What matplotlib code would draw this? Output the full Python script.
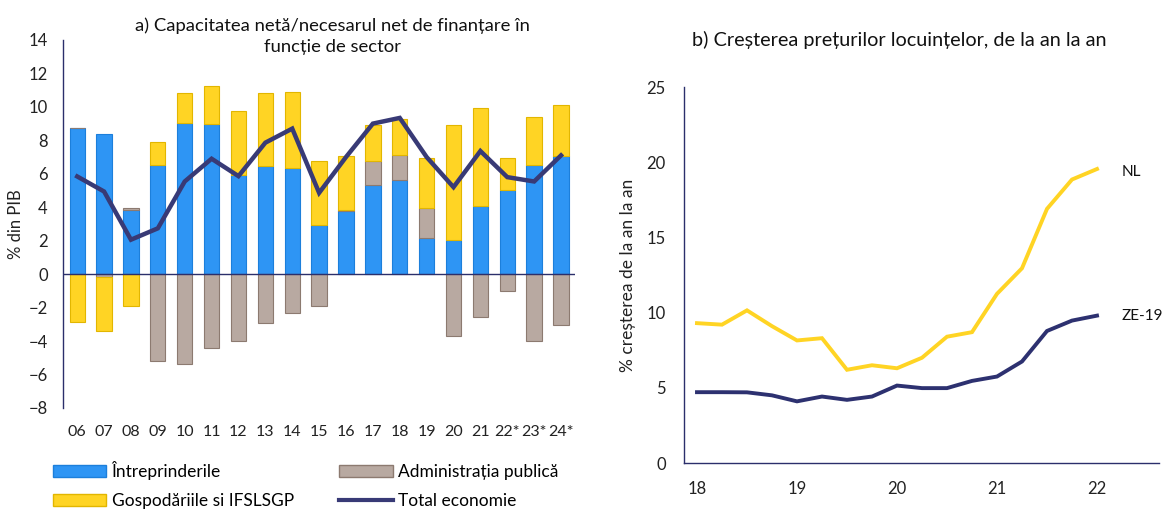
import numpy as np
import matplotlib
matplotlib.use("Agg")
import matplotlib.pyplot as plt
from matplotlib.patches import Patch
from matplotlib.lines import Line2D

plt.rcParams['font.family'] = ['Lato', 'DejaVu Sans']

# panel a) net lending/borrowing by sector, % of GDP
years = ["06", "07", "08", "09", "10", "11", "12", "13", "14", "15",
         "16", "17", "18", "19", "20", "21", "22*", "23*", "24*"]
intreprinderi = [8.74, 8.36, 3.84, 6.54, 9.06, 8.96, 5.9, 6.44, 6.34, 2.96,
                 3.76, 5.3, 5.6, 2.14, 2.04, 4.1, 5.04, 6.54, 7.06]
administratie = [0.0, -0.18, 0.12, -5.2, -5.36, -4.44, -3.98, -2.94, -2.3, -1.9,
                 0.1, 1.44, 1.54, 1.8, -3.7, -2.56, -1.02, -3.98, -3.02]
gospodarii = [-2.86, -3.24, -1.9, 1.36, 1.74, 2.3, 3.86, 4.36, 4.56, 3.8,
              3.2, 2.2, 2.16, 3.02, 6.9, 5.86, 1.9, 2.86, 3.08]
total = [5.84, 4.94, 2.06, 2.74, 5.54, 6.9, 5.86, 7.86, 8.7, 4.86,
         7.0, 9.0, 9.34, 7.0, 5.2, 7.36, 5.8, 5.54, 7.1]

# panel b) house price growth, quarterly, 2018Q1 - 2022Q1
quarters = [18.0, 18.25, 18.5, 18.75, 19.0, 19.25, 19.5, 19.75, 20.0,
            20.25, 20.5, 20.75, 21.0, 21.25, 21.5, 21.75, 22.0]
nl = [9.3, 9.2, 10.15, 9.1, 8.15, 8.3, 6.2, 6.5, 6.3,
      7.0, 8.4, 8.7, 11.25, 12.95, 16.9, 18.85, 19.55]
ze19 = [4.71, 4.71, 4.7, 4.5, 4.1, 4.42, 4.2, 4.42, 5.15,
        4.98, 4.98, 5.46, 5.75, 6.75, 8.78, 9.47, 9.8]

BLUE, BLUE_E = "#2E95F4", "#1C7FDB"
YELLOW, YELLOW_E = "#FFD424", "#E2B600"
GREY, GREY_E = "#B8A9A1", "#8C7A70"
NAVY = "#383A76"
AXIS = "#2B2F6B"
TXT = "#222222"

fig = plt.figure(figsize=(11.68, 5.11), dpi=100)
ax1 = fig.add_axes([0.0539, 0.2016, 0.4384, 0.7202])
ax2 = fig.add_axes([0.5856, 0.0939, 0.4067, 0.7358])

# stacked bars, positives and negatives stacked separately
x = np.arange(len(years))
pos_base = np.zeros(len(years))
neg_base = np.zeros(len(years))
for vals, col, ec in [(intreprinderi, BLUE, BLUE_E),
                      (administratie, GREY, GREY_E),
                      (gospodarii, YELLOW, YELLOW_E)]:
    v = np.array(vals)
    base = np.where(v >= 0, pos_base, neg_base)
    ax1.bar(x, v, 0.57, bottom=base, color=col, edgecolor=ec, linewidth=0.8, zorder=2)
    pos_base = pos_base + np.where(v > 0, v, 0)
    neg_base = neg_base + np.where(v < 0, v, 0)

ax1.plot(x, total, color=NAVY, lw=3.2, zorder=4, solid_joinstyle='miter')
ax1.axhline(0, color=AXIS, lw=1, zorder=3)

ax1.set_xlim(-0.53, 18.52)
ax1.set_ylim(-8, 14)
ax1.set_yticks(range(-8, 15, 2))
ax1.set_xticks(x)
ax1.set_xticklabels(years)
for s in ["top", "right", "bottom"]:
    ax1.spines[s].set_visible(False)
ax1.spines["left"].set_color(AXIS)
ax1.spines["left"].set_linewidth(1)
ax1.tick_params(axis="both", length=0, labelsize=12, colors=TXT)
ax1.tick_params(axis="x", pad=12, labelsize=11.5)
ax1.tick_params(axis="y", pad=11)
ax1.set_ylabel("% din PIB", fontsize=12, color=TXT, labelpad=3)

fig.text(0.285, 0.929, "a) Capacitatea netă/necesarul net de finanțare în\nfuncție de sector",
         ha="center", va="center", fontsize=13.3, color="#111111", linespacing=1.45)

handles = [Patch(facecolor=BLUE, edgecolor=BLUE_E),
           Patch(facecolor=YELLOW, edgecolor=YELLOW_E),
           Patch(facecolor=GREY, edgecolor=GREY_E),
           Line2D([], [], color=NAVY, lw=3)]
labels = ["Întreprinderile", "Gospodăriile si IFSLSGP",
          "Administrația publică", "Total economie"]
fig.legend(handles, labels, ncol=2, loc="upper left", bbox_to_anchor=(0.045, 0.097),
           frameon=False, fontsize=12.5, handlelength=3.1, handleheight=0.7,
           handletextpad=0.3, columnspacing=2.6, labelspacing=0.72, borderaxespad=0,
           borderpad=0)

# panel b
ax2.plot(quarters, nl, color=YELLOW, lw=2.8, solid_joinstyle='miter')
ax2.plot(quarters, ze19, color="#2D3170", lw=2.8, solid_joinstyle='miter')
ax2.set_xlim(17.87, 22.62)
ax2.set_ylim(0, 25)
ax2.set_xticks([18, 19, 20, 21, 22])
ax2.set_xticklabels(["18", "19", "20", "21", "22"])
ax2.set_yticks([0, 5, 10, 15, 20, 25])
for s in ["top", "right"]:
    ax2.spines[s].set_visible(False)
for s in ["left", "bottom"]:
    ax2.spines[s].set_color(AXIS)
    ax2.spines[s].set_linewidth(1)
ax2.tick_params(axis="both", length=0, labelsize=12, colors=TXT)
ax2.tick_params(axis="x", pad=13)
ax2.tick_params(axis="y", pad=13)
ax2.set_ylabel("% creșterea de la an la an", fontsize=12.5, color=TXT, labelpad=8)

ax2.text(22.25, nl[-1] - 0.2, "NL", fontsize=11, va="center", ha="left", color="#111111")
ax2.text(22.25, ze19[-1], "ZE-19", fontsize=11, va="center", ha="left", color="#111111")

fig.text(0.770, 0.922, "b) Creșterea prețurilor locuințelor, de la an la an",
         ha="center", va="center", fontsize=14.3, color="#111111")

fig.savefig("out.png", dpi=100)
